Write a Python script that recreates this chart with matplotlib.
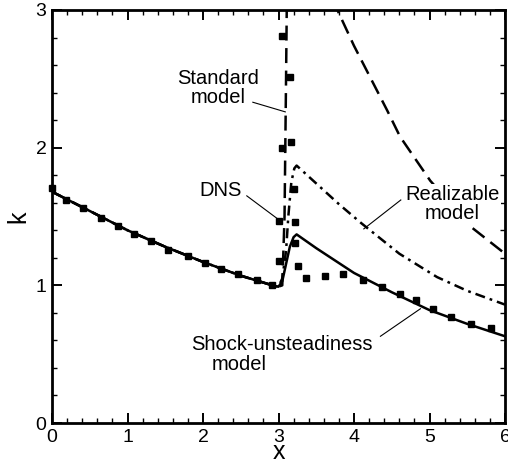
import numpy as np
import matplotlib
matplotlib.use('Agg')
import matplotlib.pyplot as plt
from matplotlib.ticker import MultipleLocator

plt.rcParams['font.family'] = ['Liberation Sans', 'DejaVu Sans']

# Courbe commune en amont du choc
x_upstream = [0.0, 0.5, 1.0, 1.5, 2.0, 2.5, 2.8, 2.95, 3.0]
k_upstream = [1.68, 1.54, 1.40, 1.28, 1.17, 1.07, 1.02, 0.995, 0.99]

# Modele shock-unsteadiness (trait plein)
x_shock = [3.05, 3.09, 3.15, 3.2, 3.24, 3.5, 4.0, 4.5, 5.0, 5.5, 6.0]
k_shock = [1.03, 1.13, 1.28, 1.35, 1.37, 1.27, 1.09, 0.95, 0.82, 0.72, 0.63]

# Modele realizable (tiret-point)
x_real = [3.05, 3.1, 3.13, 3.17, 3.21, 3.24, 3.5, 3.8, 4.1, 4.6, 5.1, 5.5, 6.0]
k_real = [1.05, 1.25, 1.50, 1.75, 1.85, 1.87, 1.74, 1.59, 1.45, 1.23, 1.06, 0.96, 0.86]

# Modele standard (tirets), depasse k=3 apres le choc
x_std = [3.05, 3.08, 3.1, 3.12, 3.2, 3.4, 3.6, 3.78, 4.0, 4.44, 4.61, 5.01, 5.56, 6.0]
k_std = [1.00, 1.50, 2.50, 3.60, 4.20, 3.70, 3.30, 3.00, 2.74, 2.27, 2.08, 1.76, 1.42, 1.23]

# Donnees DNS
x_dns = [0.0, 0.19, 0.41, 0.65, 0.87, 1.08, 1.31, 1.54, 1.80, 2.02, 2.24, 2.47,
         2.71, 2.92, 3.00, 3.00, 3.04, 3.04, 3.15, 3.17, 3.21, 3.22, 3.22, 3.26,
         3.37, 3.61, 3.86, 4.12, 4.37, 4.61, 4.82, 5.05, 5.29, 5.55, 5.82]
k_dns = [1.71, 1.62, 1.56, 1.49, 1.43, 1.37, 1.32, 1.26, 1.21, 1.16, 1.12, 1.08,
         1.04, 1.00, 1.18, 1.47, 2.00, 2.81, 2.51, 2.04, 1.70, 1.46, 1.31, 1.14,
         1.05, 1.07, 1.08, 1.04, 0.99, 0.94, 0.89, 0.83, 0.77, 0.72, 0.69]

fig = plt.figure(figsize=(5.08, 4.65), dpi=100)
ax = fig.add_axes([52/508, 1 - 423/465, 453/508, 413/465])

lw = 1.8
ax.plot(x_upstream + x_std, k_upstream + k_std, color='black', lw=lw,
        linestyle=(0, (6, 3)))
ax.plot(x_upstream + x_real, k_upstream + k_real, color='black', lw=lw,
        linestyle=(0, (4, 2, 1.1, 2)))
ax.plot(x_upstream + x_shock, k_upstream + k_shock, color='black', lw=lw)
ax.plot(x_dns, k_dns, linestyle='none', marker='s', ms=5, color='black',
        clip_on=False, zorder=4)

# Annotations
fs = 14.5
ax.text(2.20, 2.43, 'Standard\nmodel', ha='center', va='center', fontsize=fs,
        linespacing=1.0)
ax.plot([2.66, 3.09], [2.33, 2.26], color='black', lw=0.8)

ax.text(2.23, 1.69, 'DNS', ha='center', va='center', fontsize=fs)
ax.plot([2.58, 3.02], [1.65, 1.47], color='black', lw=0.8)

ax.text(5.30, 1.59, 'Realizable\nmodel', ha='center', va='center', fontsize=fs,
        linespacing=1.0, zorder=5,
        bbox=dict(facecolor='white', edgecolor='none', pad=1))
ax.plot([4.62, 4.13], [1.62, 1.41], color='black', lw=0.8)

ax.text(1.84, 0.529, 'Shock-unsteadiness', ha='left', va='baseline', fontsize=fs)
ax.text(2.11, 0.384, 'model', ha='left', va='baseline', fontsize=fs)
ax.plot([4.35, 4.88], [0.63, 0.83], color='black', lw=0.8)

ax.set_xlim(0, 6)
ax.set_ylim(0, 3)
ax.xaxis.set_major_locator(MultipleLocator(1))
ax.xaxis.set_minor_locator(MultipleLocator(0.2))
ax.yaxis.set_major_locator(MultipleLocator(1))
ax.yaxis.set_minor_locator(MultipleLocator(0.2))
ax.tick_params(which='both', direction='in', top=True, right=True,
               labelsize=14, pad=4)
ax.tick_params(which='major', length=7, width=1.4)
ax.tick_params(which='minor', length=3.6, width=1.0)
for s in ax.spines.values():
    s.set_linewidth(2.0)

ax.set_xlabel('x', fontsize=18, labelpad=-4)
ax.set_ylabel('k', fontsize=18, labelpad=4)

fig.savefig('out.png', dpi=100)
